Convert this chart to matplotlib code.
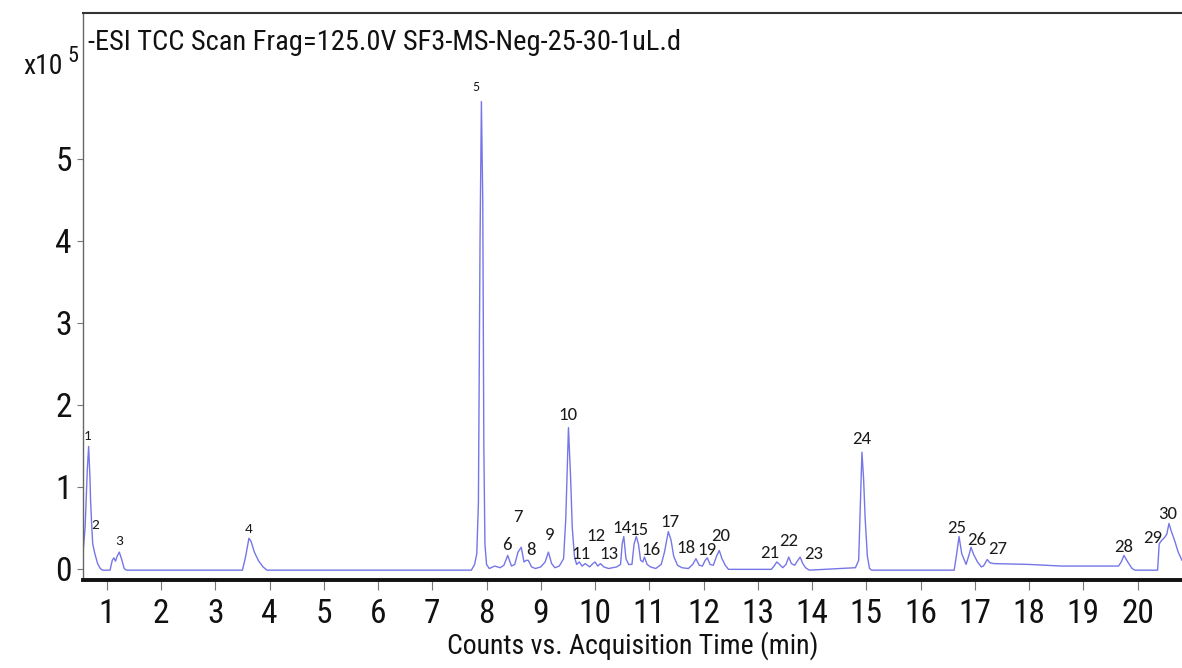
import matplotlib
matplotlib.use("Agg")
import matplotlib.pyplot as plt
from matplotlib import font_manager

# chromatogram trace (time in min, counts in 1e5)
trace_time = [0.56, 0.60, 0.64, 0.665, 0.69, 0.70, 0.72, 0.74, 0.78, 0.83, 0.88, 0.92,
              1.06, 1.10, 1.13, 1.16, 1.19, 1.23, 1.27, 1.32, 1.36,
              3.50, 3.56, 3.62, 3.66, 3.72, 3.80, 3.88, 3.95,
              7.72, 7.78, 7.82, 7.85, 7.88, 7.905, 7.93, 7.95, 7.97, 8.00, 8.05,
              8.15, 8.25, 8.32, 8.39, 8.46, 8.52, 8.58, 8.64, 8.69, 8.73, 8.77, 8.83,
              8.90, 9.00, 9.08, 9.14, 9.20, 9.26, 9.34, 9.42, 9.46, 9.51, 9.55, 9.58,
              9.62, 9.66, 9.71, 9.76, 9.82, 9.90, 9.96, 10.00, 10.05, 10.10, 10.16,
              10.25, 10.40, 10.47, 10.50, 10.53, 10.57, 10.62, 10.68, 10.72, 10.76,
              10.80, 10.84, 10.88, 10.91, 10.96, 11.02, 11.12, 11.22, 11.28, 11.35,
              11.40, 11.45, 11.52, 11.60, 11.72, 11.80, 11.86, 11.92, 11.98, 12.03,
              12.07, 12.12, 12.18, 12.24, 12.29, 12.34, 12.40, 12.46,
              13.25, 13.30, 13.35, 13.40, 13.46, 13.52, 13.57, 13.62, 13.68, 13.74,
              13.78, 13.83, 13.88, 13.95, 14.80, 14.86, 14.90, 14.92, 14.95, 14.98,
              15.02, 15.06, 15.10, 16.62, 16.66, 16.71, 16.76, 16.84, 16.90, 16.93,
              16.98, 17.05, 17.12, 17.16, 17.23, 17.28, 17.35, 18.00, 18.60, 19.65,
              19.70, 19.75, 19.82, 19.90, 19.95, 20.37, 20.40, 20.44, 20.50, 20.54,
              20.58, 20.62, 20.68, 20.75, 20.82]
trace_counts = [0.18, 0.50, 1.20, 1.49, 1.10, 0.84, 0.55, 0.30, 0.18, 0.06, 0.00, -0.02,
                -0.02, 0.10, 0.13, 0.09, 0.15, 0.20, 0.12, 0.00, -0.02,
                -0.02, 0.15, 0.37, 0.33, 0.20, 0.09, 0.02, -0.02,
                -0.02, 0.05, 0.18, 0.80, 4.00, 5.70, 4.50, 1.50, 0.30, 0.05, 0.00,
                0.03, 0.01, 0.04, 0.16, 0.03, 0.05, 0.20, 0.26, 0.08, 0.10, 0.10, 0.02,
                0.00, 0.02, 0.08, 0.20, 0.06, 0.01, 0.03, 0.12, 0.60, 1.72, 1.10, 0.50,
                0.15, 0.05, 0.08, 0.03, 0.06, 0.02, 0.06, 0.08, 0.03, 0.06, 0.02,
                0.00, 0.02, 0.05, 0.30, 0.39, 0.12, 0.05, 0.05, 0.30, 0.39,
                0.30, 0.10, 0.08, 0.14, 0.05, 0.02, 0.00, 0.05, 0.20, 0.45,
                0.35, 0.15, 0.04, 0.01, 0.00, 0.05, 0.12, 0.04, 0.03, 0.10,
                0.13, 0.05, 0.04, 0.15, 0.22, 0.12, 0.04, -0.01,
                -0.01, 0.03, 0.08, 0.05, 0.01, 0.05, 0.14, 0.06, 0.04, 0.10,
                0.14, 0.06, 0.01, -0.02, 0.01, 0.10, 1.00, 1.42, 1.10, 0.60,
                0.15, 0.00, -0.02, -0.02, 0.15, 0.39, 0.18, 0.05, 0.18, 0.26,
                0.17, 0.08, 0.02, 0.03, 0.11, 0.07, 0.06, 0.05, 0.03, 0.03,
                0.08, 0.16, 0.08, 0.00, -0.02, -0.02, 0.30, 0.34, 0.38, 0.42,
                0.55, 0.46, 0.35, 0.20, 0.10]

# numbered peaks
peak_ids = list(range(1, 31))
peak_time = [0.665, 0.74, 1.23, 3.62, 7.905, 8.39, 8.64, 8.77, 9.14, 9.51,
             9.71, 10.00, 10.10, 10.53, 10.76, 10.91, 11.35, 11.86, 12.07, 12.29,
             13.35, 13.57, 13.78, 14.92, 16.71, 16.93, 17.23, 19.75, 20.50, 20.58]
peak_counts = [1.49, 0.30, 0.20, 0.37, 5.70, 0.16, 0.26, 0.10, 0.20, 1.72,
               0.08, 0.08, 0.06, 0.39, 0.39, 0.14, 0.45, 0.12, 0.13, 0.22,
               0.08, 0.14, 0.14, 1.42, 0.39, 0.26, 0.11, 0.16, 0.38, 0.55]

x_ticks = list(range(1, 21))
y_ticks = [0, 1, 2, 3, 4, 5]

title = "-ESI TCC Scan Frag=125.0V SF3-MS-Neg-25-30-1uL.d"
x_label = "Counts vs. Acquisition Time (min)"

# label offsets in pixels (layout only)
label_dx = [-1, 2, 0, 0, -5, -1, -3, 3, 1, -1, 2, 1, 8, -2, 3, 6, 2, -10, 0, 1,
            -7, 0, 14, 0, -2, 6, 10, 0, -12, -1]
label_dy = [10, 19, 11, 9, 14, 10, 30, 10, 17, 13, 8, 26, 10, 9, 7, 7, 10, 11, 8, 14,
            9, 16, 3, 13, 9, 7, 11, 8, -1, 9]

names = {f.name for f in font_manager.fontManager.ttflist}
narrow = next((n for n in ["Liberation Sans Narrow", "DejaVu Sans Condensed", "Roboto Condensed"]
               if n in names), "Liberation Sans")
lab_font = next((n for n in ["Carlito", "Lato", "Open Sans"] if n in names), "DejaVu Sans")

W, H = 1182, 668
fig = plt.figure(figsize=(W / 100, H / 100), dpi=100)
ax = fig.add_axes([83 / W, 1 - 579.5 / H, (W - 83) / W, (579.5 - 13) / H])

ax.plot(trace_time, trace_counts, color="#7676e8", lw=1.0)

for i, n in enumerate(peak_ids):
    fs = 10 if n == 5 else (11 if n < 5 else 13.5)
    ax.annotate(str(n), xy=(peak_time[i], peak_counts[i]),
                xytext=(label_dx[i], label_dy[i]), textcoords="offset pixels",
                ha="center", va="center", fontsize=fs, family=lab_font, color="#1a1a1a")

ax.set_xlim(0.561, 20.82)
ax.set_ylim(-0.134, 6.78)
ax.set_xticks(x_ticks)
ax.set_yticks(y_ticks)
ax.tick_params(axis="x", length=7, width=0.8, color="#777777", pad=6,
               labelsize=24, labelcolor="#111111")
ax.tick_params(axis="y", length=4, width=0.8, color="#777777", pad=4,
               labelsize=24, labelcolor="#111111")
for lab in ax.get_xticklabels() + ax.get_yticklabels():
    lab.set_family(narrow)

ax.spines["right"].set_visible(False)
ax.spines["left"].set_color("#666666")
ax.spines["left"].set_linewidth(1.0)
ax.spines["top"].set_color("#333333")
ax.spines["top"].set_linewidth(1.5)
ax.spines["bottom"].set_color("#111111")
ax.spines["bottom"].set_linewidth(2.8)

ax.set_xlabel(x_label, fontsize=20, family=narrow, color="#111111", labelpad=1)

fig.text(88 / W, 1 - 42 / H, title, fontsize=20.5, family=narrow, color="#111111",
         ha="left", va="center")
fig.text(63 / W, 1 - 67 / H, "x10", fontsize=20, family=narrow, color="#111111",
         ha="right", va="center")
fig.text(73 / W, 1 - 57 / H, "5", fontsize=16, family=narrow, color="#111111",
         ha="center", va="center")

fig.savefig("out.png", dpi=100)
